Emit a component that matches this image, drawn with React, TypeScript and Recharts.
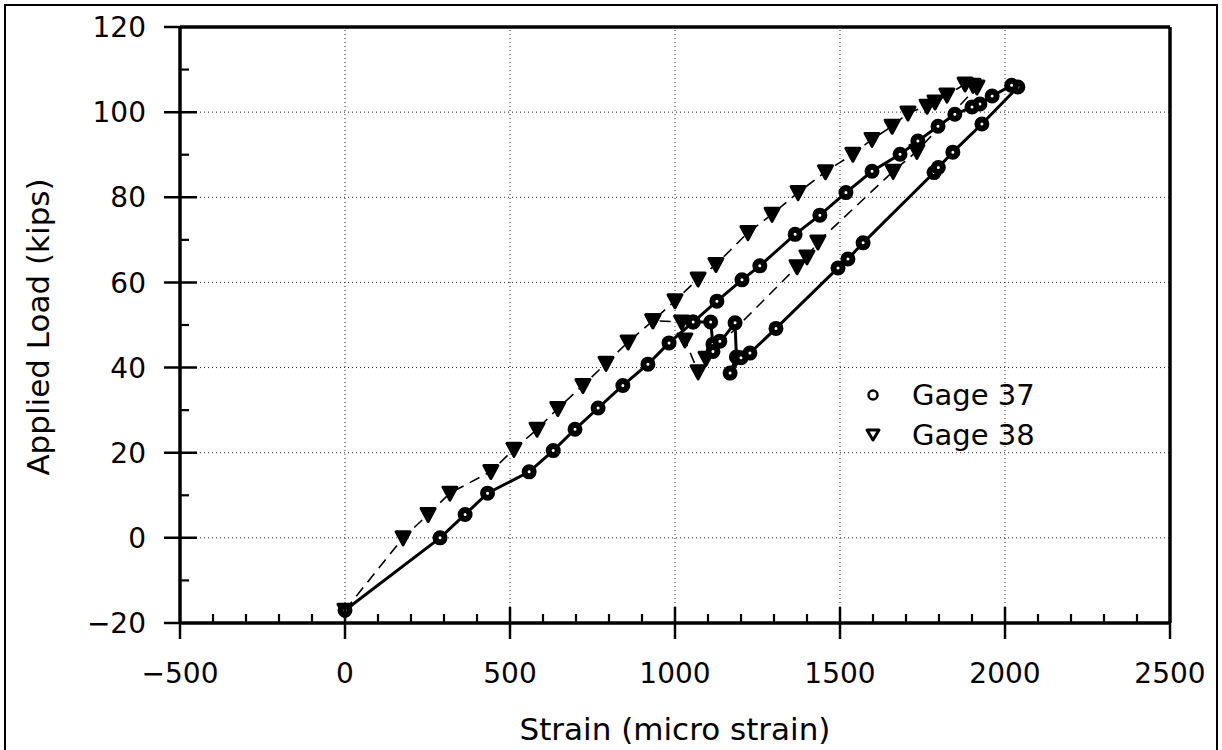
import React from "react";
import {
  ScatterChart,
  Scatter,
  XAxis,
  YAxis,
  ReferenceLine,
  Legend,
} from "recharts";

// Gage 37 (open circles, solid line) in recorded order
const gage37Strain = [
  0, 288, 364, 432, 558, 631, 697, 767, 842, 918, 982, 1055, 1108, 1115, 1136,
  1115, 1182, 1186, 1167, 1200, 1227, 1306, 1494, 1524, 1570, 1785, 1798, 1842,
  1930, 2039, 2020, 1961, 1924, 1900, 1848, 1797, 1736, 1682, 1597, 1518, 1439,
  1364, 1257, 1203, 1127, 1055,
];
const gage37Load = [
  -17, 0, 5.5, 10.5, 15.5, 20.5, 25.5, 30.5, 35.8, 40.8, 45.8, 50.7, 50.7, 45.5,
  46.2, 43.8, 50.5, 42.5, 38.7, 42.3, 43.4, 49.2, 63.4, 65.5, 69.3, 85.8, 87,
  90.6, 97.2, 105.9, 106.3, 103.8, 101.9, 101.2, 99.5, 96.7, 93.2, 90.1, 86.1,
  81.1, 75.8, 71.3, 63.9, 60.6, 55.6, 50.7,
];

// Gage 38 (open triangles, dashed line)
const gage38Strain = [
  0, 176, 252, 318, 442, 512, 582, 645, 721, 791, 858, 933, 1020, 1030, 1070,
  1094, 1370, 1400, 1433, 1661, 1733, 1915, 1903, 1879, 1824, 1788, 1764, 1706,
  1658, 1597, 1539, 1456, 1373, 1294, 1221, 1124, 1070, 1000, 933,
];
const gage38Load = [
  -17, 0, 5.5, 10.5, 15.6, 20.8, 25.5, 30.4, 35.8, 41, 46, 51, 50.7, 46.5, 39,
  42.2, 63.7, 66, 69.5, 86.1, 90.8, 105.9, 106.3, 106.6, 104, 102.4, 101.4,
  99.8, 96.7, 93.6, 90.1, 86, 81.1, 76, 71.7, 64.2, 60.8, 55.7, 51,
];

const xTicks = Array.from({ length: 31 }, (_, i) => -500 + i * 100);
const yTicks = Array.from({ length: 15 }, (_, i) => -20 + i * 10);
const xGrid = [0, 500, 1000, 1500, 2000];
const yGrid = [0, 20, 40, 60, 80, 100];

const g37 = gage37Strain.map((x, i) => ({ x, y: gage37Load[i] }));
const g38 = gage38Strain.map((x, i) => ({ x, y: gage38Load[i] }));

// plot frame (follows from chart size + margins + axis sizes below)
const W = 1222;
const H = 750;
const PLOT_L = 180;
const PLOT_R = 1170;
const PLOT_T = 27;
const PLOT_B = 623;

const FONT = "'DejaVu Sans', sans-serif";
const fmt = (v: number) => (v < 0 ? `\u2212${-v}` : `${v}`);

function BottomTick(props: any) {
  const { x, payload } = props;
  const v = payload.value;
  const y = PLOT_B;
  const major = v % 500 === 0;
  const edge = v === -500 || v === 2500;
  return (
    <g>
      {major ? (
        <line x1={x} x2={x} y1={edge ? y : y - 16} y2={y + 16} stroke="#000" strokeWidth={2.5} />
      ) : (
        <line x1={x} x2={x} y1={y} y2={y - 9} stroke="#000" strokeWidth={2.2} />
      )}
      {major && (
        <text x={x} y={y + 60} textAnchor="middle" fontFamily={FONT} fontSize={28} fill="#000">
          {fmt(v)}
        </text>
      )}
    </g>
  );
}

function TopTick(props: any) {
  const { x, payload } = props;
  const v = payload.value;
  if (v === -500 || v === 2500) return <g />;
  const len = v % 500 === 0 ? 14 : 8;
  return <line x1={x} x2={x} y1={PLOT_T} y2={PLOT_T + len} stroke="#000" strokeWidth={2.2} />;
}

function LeftTick(props: any) {
  const { y, payload } = props;
  const v = payload.value;
  const x = PLOT_L;
  const major = v % 20 === 0;
  const edge = v === -20 || v === 120;
  return (
    <g>
      {major ? (
        <line x1={x - 16} x2={edge ? x : x + 17} y1={y} y2={y} stroke="#000" strokeWidth={2.5} />
      ) : (
        <line x1={x} x2={x + 9} y1={y} y2={y} stroke="#000" strokeWidth={2.2} />
      )}
      {major && (
        <text x={x - 34} y={y} dy="0.36em" textAnchor="end" fontFamily={FONT} fontSize={28} fill="#000">
          {fmt(v)}
        </text>
      )}
    </g>
  );
}

function RightTick(props: any) {
  const { y, payload } = props;
  const v = payload.value;
  if (v === -20 || v === 120) return <g />;
  const len = v % 20 === 0 ? 16 : 9;
  return <line x1={PLOT_R - len} x2={PLOT_R} y1={y} y2={y} stroke="#000" strokeWidth={2.2} />;
}

function CircleMark(props: any) {
  const { cx, cy } = props;
  if (cx == null || cy == null) return <g />;
  return <circle cx={cx} cy={cy} r={4.5} fill="#fff" stroke="#000" strokeWidth={6} />;
}

function TriMark(props: any) {
  const { cx, cy } = props;
  if (cx == null || cy == null) return <g />;
  const d = `M${cx - 7},${cy - 6} L${cx + 7},${cy - 6} L${cx},${cy + 7} Z`;
  return <path d={d} fill="#000" stroke="#000" strokeWidth={3} strokeLinejoin="round" />;
}

function LegendBox() {
  return (
    <svg width={200} height={80} style={{ display: "block" }}>
      <circle cx={13} cy={17} r={4.5} fill="#fff" stroke="#000" strokeWidth={2.4} />
      <text x={52} y={17} dy="0.36em" fontFamily={FONT} fontSize={29} fill="#000">
        Gage 37
      </text>
      <path d="M7,52 L19,52 L13,62 Z" fill="#fff" stroke="#000" strokeWidth={3} strokeLinejoin="round" />
      <text x={52} y={57} dy="0.36em" fontFamily={FONT} fontSize={29} fill="#000">
        Gage 38
      </text>
    </svg>
  );
}

export default function App() {
  return (
    <div style={{ position: "relative", width: W, height: H, background: "#fff", overflow: "hidden" }}>
      <style>{`body{margin:0;background:#fff}`}</style>
      <div
        style={{
          position: "absolute",
          left: 4,
          top: 4,
          width: 1210,
          height: 780,
          border: "2px solid #000",
          pointerEvents: "none",
        }}
      />
      <ScatterChart width={W} height={H} margin={{ top: PLOT_T - 1, right: W - PLOT_R - 1, left: 0, bottom: 0 }}>
        <XAxis
          xAxisId="b"
          type="number"
          dataKey="x"
          domain={[-500, 2500]}
          ticks={xTicks}
          interval={0}
          height={H - PLOT_B}
          axisLine={{ stroke: "#000", strokeWidth: 3.5 }}
          tickLine={false}
          tickSize={0}
          tickMargin={0}
          tick={<BottomTick />}
        />
        <XAxis
          xAxisId="t"
          orientation="top"
          type="number"
          domain={[-500, 2500]}
          ticks={xTicks}
          interval={0}
          height={1}
          axisLine={{ stroke: "#000", strokeWidth: 3.5 }}
          tickLine={false}
          tickSize={0}
          tickMargin={0}
          tick={<TopTick />}
        />
        <YAxis
          yAxisId="l"
          type="number"
          dataKey="y"
          domain={[-20, 120]}
          ticks={yTicks}
          interval={0}
          width={PLOT_L}
          axisLine={{ stroke: "#000", strokeWidth: 3.5 }}
          tickLine={false}
          tickSize={0}
          tickMargin={0}
          tick={<LeftTick />}
        />
        <YAxis
          yAxisId="r"
          orientation="right"
          type="number"
          domain={[-20, 120]}
          ticks={yTicks}
          interval={0}
          width={1}
          axisLine={{ stroke: "#000", strokeWidth: 3.5 }}
          tickLine={false}
          tickSize={0}
          tickMargin={0}
          tick={<RightTick />}
        />
        {xGrid.map((v) => (
          <ReferenceLine key={`gx${v}`} x={v} xAxisId="b" yAxisId="l" stroke="#222" strokeWidth={1} strokeDasharray="1 3" />
        ))}
        {yGrid.map((v) => (
          <ReferenceLine key={`gy${v}`} y={v} xAxisId="b" yAxisId="l" stroke="#222" strokeWidth={1} strokeDasharray="1 3" />
        ))}
        <Scatter
          name="Gage 38"
          data={g38}
          xAxisId="b"
          yAxisId="l"
          line={{ stroke: "#000", strokeWidth: 1.6, strokeDasharray: "11 7" }}
          lineJointType="linear"
          shape={<TriMark />}
          isAnimationActive={false}
        />
        <Scatter
          name="Gage 37"
          data={g37}
          xAxisId="b"
          yAxisId="l"
          line={{ stroke: "#000", strokeWidth: 3 }}
          lineJointType="linear"
          shape={<CircleMark />}
          isAnimationActive={false}
        />
        <Legend
          layout="vertical"
          align="center"
          verticalAlign="middle"
          content={() => <LegendBox />}
          wrapperStyle={{ left: 860, top: 378, width: 200, height: 80 }}
        />
      </ScatterChart>
      <svg width={W} height={H} style={{ position: "absolute", left: 0, top: 0, pointerEvents: "none" }}>
        <text
          x={38}
          y={327}
          transform="rotate(-90 38 327)"
          textAnchor="middle"
          dy="0.36em"
          fontFamily={FONT}
          fontSize={31}
          fill="#000"
        >
          Applied Load (kips)
        </text>
        <text x={675} y={729} textAnchor="middle" dy="0.36em" fontFamily={FONT} fontSize={31} fill="#000">
          Strain (micro strain)
        </text>
      </svg>
    </div>
  );
}
